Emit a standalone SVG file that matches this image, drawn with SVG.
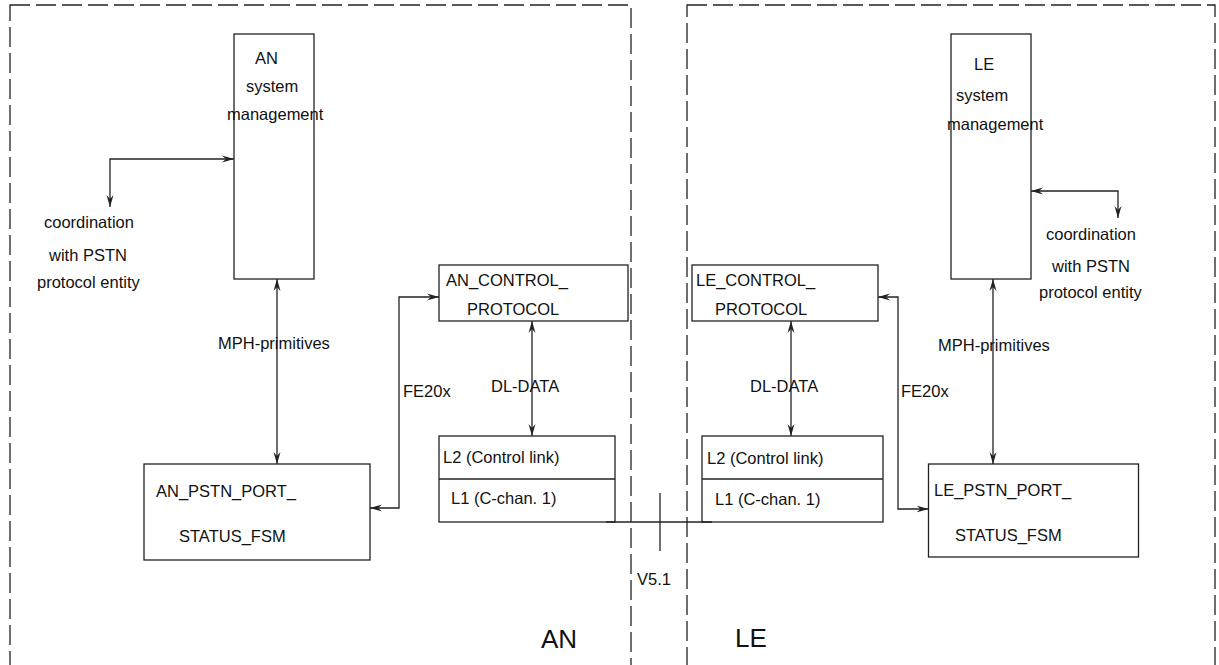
<svg xmlns="http://www.w3.org/2000/svg" width="1219" height="665" viewBox="0 0 1219 665">
<style>
.frame{fill:none;stroke:#222;stroke-width:1.3;stroke-dasharray:20 6}
.box{fill:#fff;stroke:#222;stroke-width:1.3}
.ln{fill:none;stroke:#222;stroke-width:1.3}
.arr{fill:none;stroke:#222;stroke-width:1.3;marker-start:url(#ah);marker-end:url(#ah)}
text{font-family:"Liberation Sans",Arial,sans-serif;font-size:16.5px;fill:#111}
.big{font-size:26px}
</style>
<defs>
<marker id="ah" markerUnits="userSpaceOnUse" markerWidth="13" markerHeight="9" refX="12" refY="4.5" orient="auto-start-reverse">
<path d="M0,1 L12,4.5 L0,8 L4,4.5 Z" fill="#222"/>
</marker>
</defs>
<rect class="frame" x="10" y="5" width="621" height="700"/>
<rect class="frame" x="687" y="5" width="528" height="700"/>
<g id="an-sysman">
<rect class="box" x="234" y="34" width="80" height="245"/>
<text x="255" y="64">AN</text>
<text x="246" y="92">system</text>
<text x="227" y="120">management</text>
</g>
<g id="le-sysman">
<rect class="box" x="951" y="34" width="80" height="245"/>
<text x="974" y="70">LE</text>
<text x="956" y="101">system</text>
<text x="947" y="130">management</text>
</g>
<g id="an-coord">
<text x="44" y="228">coordination</text>
<text x="49" y="261">with PSTN</text>
<text x="37" y="288">protocol entity</text>
</g>
<g id="le-coord">
<text x="1046" y="240">coordination</text>
<text x="1052" y="272">with PSTN</text>
<text x="1039" y="298">protocol entity</text>
</g>
<g id="an-control">
<rect class="box" x="439" y="265" width="189" height="56"/>
<text x="446" y="286">AN_CONTROL_</text>
<text x="467" y="315">PROTOCOL</text>
</g>
<g id="le-control">
<rect class="box" x="692" y="265" width="186" height="56"/>
<text x="696" y="286">LE_CONTROL_</text>
<text x="715" y="315">PROTOCOL</text>
</g>
<g id="an-link">
<rect class="box" x="439" y="436" width="176" height="86"/>
<line class="ln" x1="439" y1="479" x2="615" y2="479"/>
<text x="443" y="463">L2 (Control link)</text>
<text x="451" y="504">L1 (C-chan. 1)</text>
</g>
<g id="le-link">
<rect class="box" x="702" y="436" width="181" height="86"/>
<line class="ln" x1="702" y1="479" x2="883" y2="479"/>
<text x="707" y="464">L2 (Control link)</text>
<text x="715" y="505">L1 (C-chan. 1)</text>
</g>
<g id="an-pstn">
<rect class="box" x="144" y="464" width="226" height="96"/>
<text x="156" y="497">AN_PSTN_PORT_</text>
<text x="179" y="542">STATUS_FSM</text>
</g>
<g id="le-pstn">
<rect class="box" x="928.5" y="464" width="210" height="93"/>
<text x="934" y="496">LE_PSTN_PORT_</text>
<text x="955" y="541">STATUS_FSM</text>
</g>
<g id="connectors">
<path class="arr" d="M110,207 V159 H234"/>
<path class="arr" d="M277,279 V464"/>
<path class="arr" d="M370,508 H399 V297 H439"/>
<path class="arr" d="M532,321 V436"/>
<path class="arr" d="M1031,191 H1118 V218"/>
<path class="arr" d="M993,279 V464"/>
<path class="arr" d="M878,297 H898 V509 H928.5"/>
<path class="arr" d="M791,321 V436"/>
<path class="ln" d="M606,522 H712"/>
<path class="ln" d="M660,493 V551"/>
</g>
<g id="labels">
<text x="218" y="349">MPH-primitives</text>
<text x="938" y="351">MPH-primitives</text>
<text x="403" y="397">FE20x</text>
<text x="901" y="397">FE20x</text>
<text x="491" y="392">DL-DATA</text>
<text x="750" y="392">DL-DATA</text>
<text x="637" y="585">V5.1</text>
<text class="big" x="541" y="648">AN</text>
<text class="big" x="735" y="647">LE</text>
</g>
</svg>
